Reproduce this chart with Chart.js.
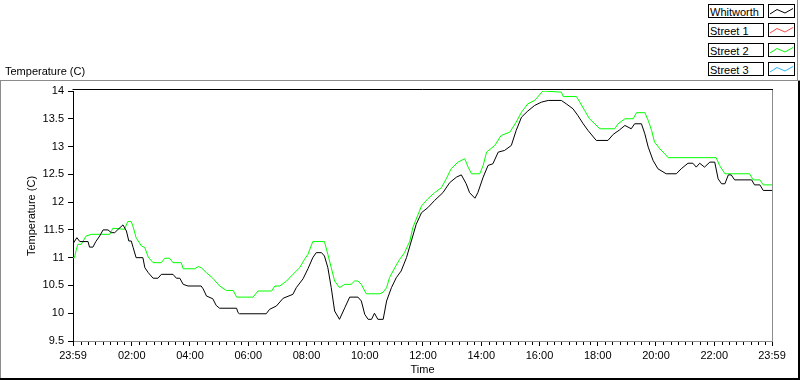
<!DOCTYPE html>
<html>
<head>
<meta charset="utf-8">
<script src="https://cdn.jsdelivr.net/npm/chart.js@4.4.1/dist/chart.umd.min.js"></script>
<style>
  body { margin: 0; background: #fff; font-family: 'Liberation Sans', Arial, sans-serif; font-size: 11px; color: #000; }
  #wrap { position: relative; width: 800px; height: 380px; overflow: hidden; }
  #chart { position: absolute; left: 0; top: 0; }
  #title { position: absolute; left: 5px; top: 65px; line-height: 13px; white-space: nowrap; }
  .lbl, .swatch { position: absolute; height: 14px; box-sizing: border-box; border: 1px solid #000; background: #fff; }
  .lbl { left: 708px; width: 56px; padding: 1px 0 0 1px; line-height: 12px; white-space: nowrap; }
  .swatch { left: 768px; width: 27px; }
  .swatch svg { position: absolute; left: -1px; top: -1px; }
</style>
</head>
<body>
<div id="wrap">
  <canvas id="chart" width="800" height="380"></canvas>
  <div id="title">Temperature (C)</div>
  <div id="legend"></div>
</div>
<script>
// data (minutes after 23:59 of the previous day)
const seriesNames = ['Whitworth', 'Street 1', 'Street 2', 'Street 3']

const whitworthMinutes = [0, 8, 14, 31, 34, 41, 47, 55, 62, 72, 79, 86, 93, 103, 110, 115, 120, 124, 130, 144, 148, 155, 165, 175, 182, 206, 213, 220, 227, 237, 264, 268, 275, 288, 295, 302, 337, 340, 343, 398, 405, 419, 433, 453, 460, 474, 484, 494, 501, 512, 518, 525, 532, 539, 549, 560, 570, 587, 594, 601, 608, 615, 621, 628, 639, 646, 656, 666, 676, 687, 697, 707, 718, 731, 745, 762, 776, 790, 800, 810, 817, 828, 834, 845, 855, 865, 876, 889, 903, 913, 924, 937, 951, 965, 979, 1006, 1016, 1030, 1040, 1051, 1061, 1078, 1102, 1113, 1126, 1137, 1150, 1157, 1171, 1178, 1185, 1195, 1205, 1222, 1243, 1253, 1267, 1277, 1284, 1291, 1301, 1312, 1322, 1329, 1336, 1343, 1350, 1356, 1363, 1398, 1404, 1415, 1422, 1440]
const whitworthTemps = [11.25, 11.36, 11.29, 11.29, 11.19, 11.19, 11.29, 11.39, 11.5, 11.5, 11.45, 11.45, 11.51, 11.59, 11.48, 11.3, 11.3, 11.18, 11.0, 11.0, 10.82, 10.73, 10.63, 10.63, 10.7, 10.7, 10.63, 10.63, 10.52, 10.49, 10.49, 10.44, 10.31, 10.26, 10.14, 10.09, 10.09, 10.01, 9.99, 9.99, 10.07, 10.13, 10.27, 10.34, 10.46, 10.62, 10.8, 11.0, 11.09, 11.09, 11.03, 10.82, 10.46, 10.04, 9.89, 10.1, 10.29, 10.29, 10.22, 9.98, 9.89, 9.89, 10.0, 9.89, 9.89, 10.22, 10.46, 10.64, 10.76, 11.0, 11.3, 11.6, 11.81, 11.9, 12.03, 12.17, 12.35, 12.45, 12.49, 12.33, 12.17, 12.07, 12.17, 12.45, 12.66, 12.69, 12.9, 12.93, 13.02, 13.29, 13.53, 13.64, 13.74, 13.8, 13.83, 13.83, 13.77, 13.68, 13.56, 13.41, 13.29, 13.11, 13.11, 13.22, 13.3, 13.38, 13.32, 13.41, 13.41, 13.23, 12.99, 12.75, 12.6, 12.51, 12.51, 12.6, 12.7, 12.7, 12.63, 12.7, 12.63, 12.72, 12.72, 12.42, 12.33, 12.33, 12.49, 12.49, 12.4, 12.4, 12.31, 12.31, 12.21, 12.21]

const street2Minutes = [0, 3, 7, 10, 17, 27, 38, 76, 82, 106, 113, 120, 124, 130, 141, 148, 155, 165, 182, 189, 199, 206, 223, 227, 251, 258, 264, 275, 288, 302, 316, 330, 337, 371, 381, 409, 416, 426, 440, 453, 467, 477, 484, 494, 518, 525, 532, 539, 549, 560, 573, 580, 587, 594, 604, 632, 639, 646, 652, 663, 673, 683, 694, 700, 711, 718, 731, 745, 759, 769, 779, 793, 807, 814, 821, 838, 845, 852, 869, 882, 900, 913, 924, 937, 951, 968, 1006, 1010, 1037, 1044, 1054, 1064, 1075, 1085, 1116, 1123, 1137, 1154, 1161, 1178, 1185, 1192, 1198, 1209, 1219, 1226, 1325, 1332, 1343, 1394, 1401, 1415, 1422, 1440]
const street2Temps = [11.0, 11.0, 11.15, 11.24, 11.24, 11.39, 11.42, 11.42, 11.53, 11.51, 11.65, 11.65, 11.55, 11.36, 11.21, 11.18, 11.01, 10.91, 10.91, 10.99, 10.99, 10.91, 10.91, 10.8, 10.8, 10.84, 10.82, 10.73, 10.63, 10.49, 10.41, 10.41, 10.29, 10.29, 10.4, 10.4, 10.49, 10.49, 10.58, 10.7, 10.82, 10.97, 11.06, 11.29, 11.29, 11.06, 10.82, 10.58, 10.46, 10.52, 10.52, 10.58, 10.58, 10.52, 10.35, 10.35, 10.38, 10.46, 10.64, 10.82, 10.97, 11.09, 11.3, 11.54, 11.78, 11.93, 12.06, 12.17, 12.26, 12.42, 12.6, 12.72, 12.78, 12.63, 12.51, 12.51, 12.66, 12.9, 13.02, 13.2, 13.26, 13.44, 13.62, 13.77, 13.83, 14.0, 13.98, 13.9, 13.9, 13.8, 13.65, 13.5, 13.41, 13.32, 13.32, 13.41, 13.5, 13.5, 13.61, 13.61, 13.47, 13.29, 13.08, 12.96, 12.87, 12.8, 12.8, 12.66, 12.51, 12.51, 12.4, 12.4, 12.31, 12.31]

// Street 1 and Street 3 show no trace in the plot
const street1Temps = []
const street3Temps = []

const xTickMinutes = [0, 121, 241, 361, 481, 601, 721, 841, 961, 1081, 1201, 1321, 1440]
const xTickLabels = ['23:59', '02:00', '04:00', '06:00', '08:00', '10:00', '12:00', '14:00', '16:00', '18:00', '20:00', '22:00', '23:59']
const yTicks = [9.5, 10, 10.5, 11, 11.5, 12, 12.5, 13, 13.5, 14]

const seriesColors = ['#000000', '#ff4848', '#00ff00', '#2ab8ff']

const toPoints = (mins, temps) => temps.map((t, i) => ({ x: mins[i], y: t }))

// legend boxes
const legend = document.getElementById('legend')
seriesNames.forEach((name, i) => {
  const top = Math.round(4 + i * 19.3)
  legend.insertAdjacentHTML('beforeend',
    `<div class="lbl" style="top:${top}px">${name}</div>` +
    `<div class="swatch" style="top:${top}px"><svg width="27" height="14">` +
    `<polyline points="2,10 9,5.5 17,9 25,4.5" fill="none" stroke="${seriesColors[i]}" stroke-width="1"/></svg></div>`)
})

// frame, minor ticks, panel borders
const framePlugin = {
  id: 'frame',
  afterDraw(chart) {
    const { ctx, chartArea: a, scales: { x } } = chart
    ctx.save()
    ctx.lineWidth = 1

    ctx.strokeStyle = '#000'
    ctx.beginPath()
    for (let m = 16; m < 1440; m += 15) {
      if (xTickMinutes.includes(m)) continue
      const px = Math.round(x.getPixelForValue(m)) + 0.5
      ctx.moveTo(px, a.bottom + 1)
      ctx.lineTo(px, a.bottom + 4)
    }
    ctx.stroke()

    // plot border: dark top, grey right
    ctx.beginPath()
    ctx.moveTo(a.left - 0.5, a.top - 1.5)
    ctx.lineTo(a.right + 1, a.top - 1.5)
    ctx.stroke()
    ctx.strokeStyle = '#8c8c8c'
    ctx.beginPath()
    ctx.moveTo(a.right + 0.5, a.top - 1)
    ctx.lineTo(a.right + 0.5, a.bottom + 1)
    ctx.stroke()

    // outer panel
    ctx.strokeStyle = '#8c8c8c'
    ctx.beginPath()
    ctx.moveTo(0, 80.5); ctx.lineTo(800, 80.5)
    ctx.moveTo(0.5, 80); ctx.lineTo(0.5, 379)
    ctx.moveTo(797.5, 0); ctx.lineTo(797.5, 80)
    ctx.stroke()
    ctx.strokeStyle = '#000'
    ctx.lineWidth = 2
    ctx.beginPath()
    ctx.moveTo(0, 379); ctx.lineTo(800, 379)
    ctx.moveTo(799, 81); ctx.lineTo(799, 380)
    ctx.stroke()
    ctx.restore()
  }
}

const font = { family: "'Liberation Sans', Arial, sans-serif", size: 11 }

new Chart(document.getElementById('chart'), {
  type: 'line',
  data: {
    datasets: [
      { label: seriesNames[0], data: toPoints(whitworthMinutes, whitworthTemps) },
      { label: seriesNames[1], data: street1Temps },
      { label: seriesNames[2], data: toPoints(street2Minutes, street2Temps) },
      { label: seriesNames[3], data: street3Temps }
    ].map((d, i) => ({ ...d, borderColor: seriesColors[i], borderWidth: 1, pointRadius: 0, tension: 0, fill: false }))
  },
  options: {
    responsive: false,
    animation: false,
    devicePixelRatio: 1,
    layout: { padding: { left: 0, top: 91, right: 28, bottom: 0 } },
    plugins: { legend: { display: false }, tooltip: { enabled: false } },
    scales: {
      x: {
        type: 'linear',
        min: 0,
        max: 1440,
        afterFit: s => { s.height = 39 },
        afterBuildTicks: s => { s.ticks = xTickMinutes.map(v => ({ value: v })) },
        ticks: { callback: (v, i) => xTickLabels[i], autoSkip: false, maxRotation: 0, padding: 3, color: '#000', font },
        grid: { drawOnChartArea: false, drawTicks: true, tickLength: 5, color: '#000' },
        border: { color: '#8c8c8c' },
        title: { display: true, text: 'Time', color: '#000', font, padding: { top: 0, bottom: 3 } }
      },
      y: {
        min: 9.5,
        max: 14,
        afterFit: s => { s.width = 73 },
        afterBuildTicks: s => { s.ticks = yTicks.map(v => ({ value: v })) },
        ticks: { callback: v => String(v), padding: 4, color: '#000', font },
        grid: { drawOnChartArea: false, drawTicks: true, tickLength: 5, color: '#000' },
        border: { color: '#000' },
        title: { display: true, text: 'Temperature (C)', color: '#000', font, padding: { top: 25, bottom: 0 } }
      }
    }
  },
  plugins: [framePlugin]
})
</script>
</body>
</html>
